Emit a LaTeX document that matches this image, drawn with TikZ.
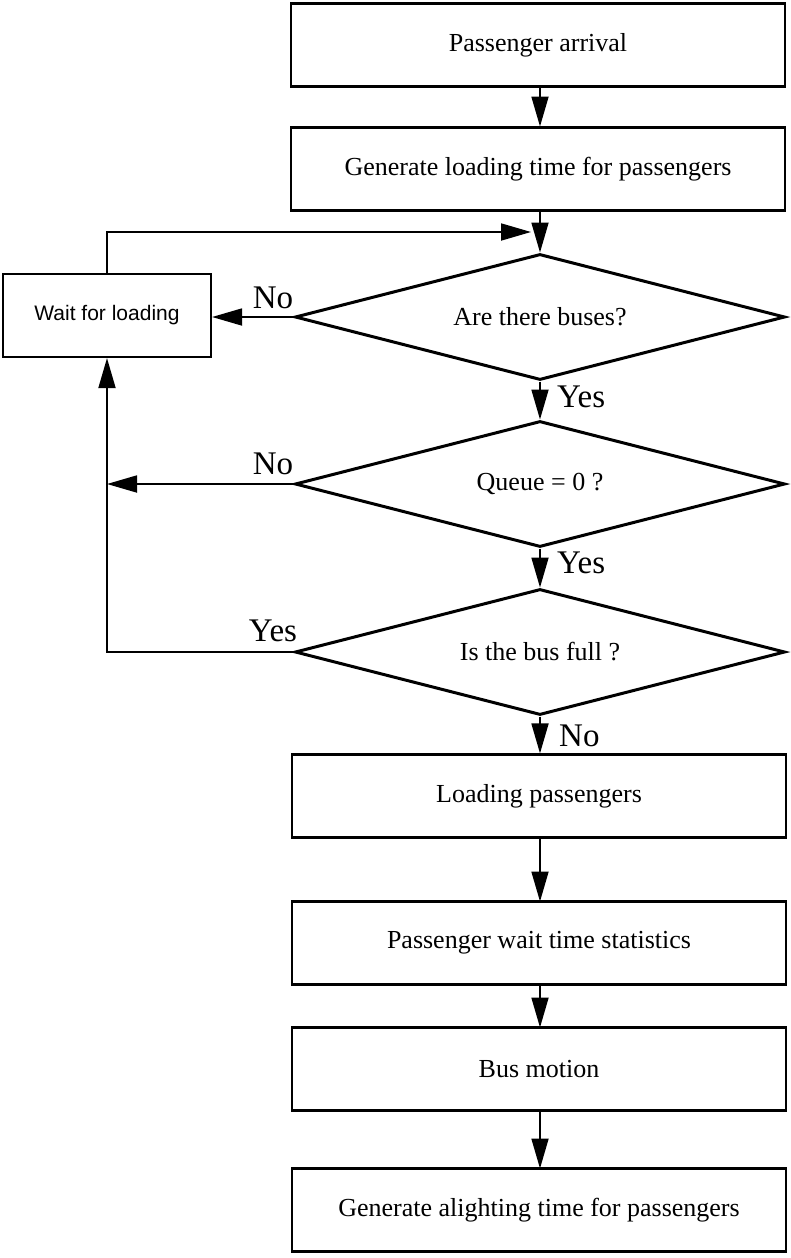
\documentclass[tikz,border=0pt]{standalone}
\usepackage{fontspec}
\setmainfont{Liberation Serif}
\newfontfamily\sansf{Liberation Sans}
\usetikzlibrary{shapes.geometric,arrows.meta}
\tikzset{
  procbox/.style={draw, line width=2.2pt, rectangle, minimum width=494pt, minimum height=83pt, inner sep=0pt, font=\fontsize{26}{30}\selectfont},
  waitbox/.style={draw, line width=2.2pt, rectangle, minimum width=208pt, minimum height=83pt, inner sep=0pt, font=\sansf\fontsize{21}{25}\selectfont},
  decision/.style={draw, line width=3pt, diamond, aspect=3.9, minimum width=490pt, minimum height=126pt, inner sep=0pt, font=\fontsize{26}{30}\selectfont},
  arr/.style={line width=1.8pt, -{Triangle[length=30pt,width=17pt]}},
  lbl/.style={font=\fontsize{33}{36}\selectfont, inner sep=0pt}
}
\begin{document}
\begin{tikzpicture}[x=1pt,y=-1pt]
\useasboundingbox (0,0) rectangle (790,1258);
% boxes
\node[procbox] (b1) at (538,45) {Passenger arrival};
\node[procbox] (b2) at (538,169) {Generate loading time for passengers};
\node[decision] (d1) at (540,317) {Are there buses?};
\node[decision] (d2) at (540,484) {Queue = 0 ?};
\node[decision] (d3) at (540,652) {Is the bus full ?};
\node[waitbox] (w) at (107,315.5) {Wait for loading};
\node[procbox] (b3) at (539,796) {Loading passengers};
\node[procbox] (b4) at (539,943) {Passenger wait time statistics};
\node[procbox] (b5) at (539,1069) {Bus motion};
\node[procbox] (b6) at (539,1210) {Generate alighting time for passengers};
% coordinates
\coordinate (loopcorner) at (107,232);
\coordinate (loopend) at (531,232);
\coordinate (leftjoin) at (107,484);
\coordinate (bottomcorner) at (107,652);
% connectors
\draw[arr] (b1.south -| 540,0) -- (540,126.5);
\draw[arr] (b2.south -| d1.north) -- (d1.north);
\draw[arr] (w.north) -- (loopcorner) -- (loopend);
\draw[arr] (d1.west) -- (d1.west -| w.east);
\draw[arr] (d1.south) -- (d2.north);
\draw[arr] (d2.west) -- (leftjoin);
\draw[arr] (d2.south) -- (d3.north);
\draw[arr] (d3.west) -- (bottomcorner) -- (w.south);
\draw[arr] (d3.south) -- (d3.south |- b3.north);
\draw[arr] (b3.south -| 540,0) -- (540,901.5);
\draw[arr] (b4.south -| 540,0) -- (540,1027.5);
\draw[arr] (b5.south -| 540,0) -- (540,1168.5);
% labels
\node[lbl, anchor=base] (l1) at (273,308) {No};
\node[lbl, anchor=base west] (l2) at (557,407) {Yes};
\node[lbl, anchor=base] (l3) at (273,474) {No};
\node[lbl, anchor=base west] (l4) at (557,573) {Yes};
\node[lbl, anchor=base] (l5) at (273,641) {Yes};
\node[lbl, anchor=base west] (l6) at (559,746) {No};
\end{tikzpicture}
\end{document}
